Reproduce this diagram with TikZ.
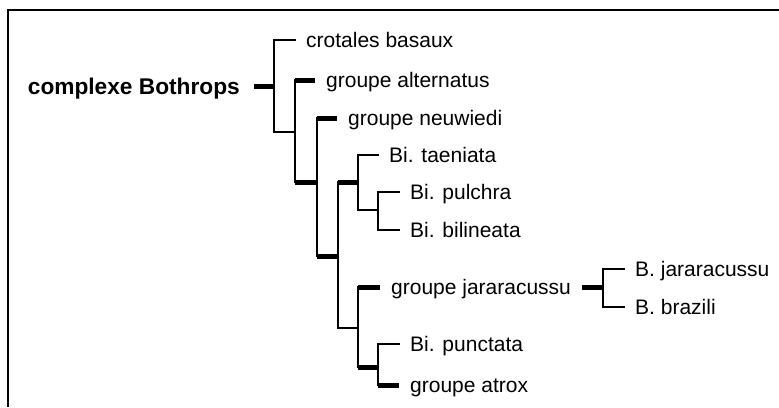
\documentclass[tikz,border=0pt]{standalone}
\usepackage{fontspec}
\setmainfont{Liberation Sans}
\usepackage{tikz}

\begin{document}
\begin{tikzpicture}[x=1pt, y=-1pt,
    taxon/.style = {anchor=west, inner xsep=11pt, inner ysep=0pt, text height=15pt, text depth=0pt, font=\fontsize{21}{25}\selectfont},
    clade/.style = {anchor=east, inner xsep=14pt, inner ysep=0pt, text height=16pt, text depth=0pt, font=\fontsize{22.7}{27}\selectfont\bfseries},
    twig/.style = {line width=2pt, line cap=rect},
    limb/.style = {line width=5pt},
    frame/.style = {line width=2.5pt}]
    \useasboundingbox (0,0) rectangle (779,407);
    \draw[frame] (779,10) -| (8,407);

    % junctions
    \coordinate (k1) at (274,86);
    \coordinate (k2) at (295,132);
    \coordinate (k3) at (317,182);
    \coordinate (k4) at (338,256);
    \coordinate (k5) at (358,182);
    \coordinate (k6) at (378,210);
    \coordinate (k7) at (358,328);
    \coordinate (k8) at (378,367);
    \coordinate (k9) at (603,287);

    % taxa
    \node[clade] (cb) at (254,86) {complexe Bothrops};
    \node[taxon] (crot) at (295,40) {crotales basaux};
    \node[taxon] (alt) at (315,80) {groupe alternatus};
    \node[taxon] (neu) at (337,118) {groupe neuwiedi};
    \node[taxon] (tae) at (378,155) {Bi. taeniata};
    \node[taxon] (pul) at (399,192) {Bi. pulchra};
    \node[taxon] (bil) at (399,230) {Bi. bilineata};
    \node[taxon] (gjar) at (380,287) {groupe jararacussu};
    \node[taxon] (bjar) at (624,269) {B. jararacussu};
    \node[taxon] (bbra) at (624,307) {B. brazili};
    \node[taxon] (pun) at (399,344) {Bi. punctata};
    \node[taxon] (atr) at (399,385) {groupe atrox};

    \draw[limb] (cb.east) -- (k1);
    \draw[twig] (k1 |- crot) -- (k1 |- k2);
    \draw[twig] (k1 |- crot) -- (crot.west);
    \draw[twig] (k1 |- k2) -- (k2);

    \draw[twig] (k2 |- alt) -- (k2 |- k3);
    \draw[limb] (k2 |- alt) -- (alt.west);
    \draw[limb] (k2 |- k3) -- (k3);

    \draw[twig] (k3 |- neu) -- (k3 |- k4);
    \draw[limb] (k3 |- neu) -- (neu.west);
    \draw[limb] (k3 |- k4) -- (k4);

    \draw[twig] (k4 |- k5) -- (k4 |- k7);
    \draw[limb] (k4 |- k5) -- (k5);
    \draw[twig] (k4 |- k7) -- (k7);

    \draw[twig] (k5 |- tae) -- (k5 |- k6);
    \draw[twig] (k5 |- tae) -- (tae.west);
    \draw[twig] (k5 |- k6) -- (k6);

    \draw[twig] (k6 |- pul) -- (k6 |- bil);
    \draw[twig] (k6 |- pul) -- (pul.west);
    \draw[twig] (k6 |- bil) -- (bil.west);

    \draw[twig] (k7 |- gjar) -- (k7 |- k8);
    \draw[limb] (k7 |- gjar) -- (gjar.west);
    \draw[limb] (k7 |- k8) -- (k8);

    \draw[twig] (k8 |- pun) -- (k8 |- atr);
    \draw[twig] (k8 |- pun) -- (pun.west);
    \draw[limb] (k8 |- atr) -- (atr.west);

    \draw[limb] (gjar.east) -- (k9);
    \draw[twig] (k9 |- bjar) -- (k9 |- bbra);
    \draw[twig] (k9 |- bjar) -- (bjar.west);
    \draw[twig] (k9 |- bbra) -- (bbra.west);
\end{tikzpicture}
\end{document}
